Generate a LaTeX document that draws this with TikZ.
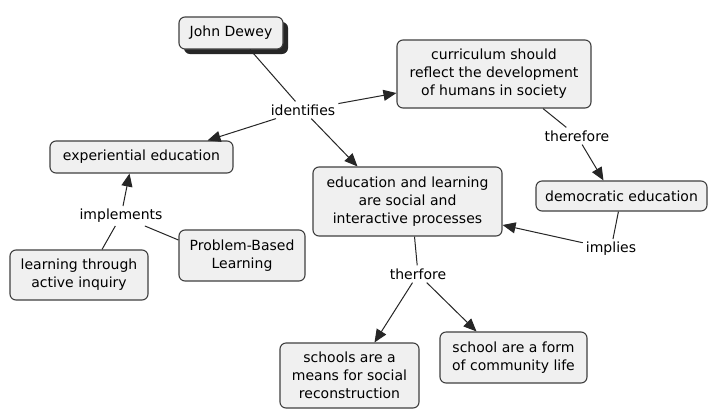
\documentclass[tikz,border=0pt]{standalone}
\usepackage{fontspec}
\setmainfont{DejaVu Sans}
\usetikzlibrary{arrows.meta,shadows}
\begin{document}
\begin{tikzpicture}[x=1pt,y=-1pt,
 box/.style={draw=black!75, fill=black!6, rounded corners=6pt, line width=1.1pt, align=center, font=\fontsize{14}{18}\selectfont, inner sep=0pt},
 lbl/.style={font=\fontsize{14}{18}\selectfont, inner sep=3pt},
 con/.style={draw=black!85, line width=1pt},
 arr/.style={con, -{Triangle[length=13pt,width=11pt]}}]
\useasboundingbox[fill=white] (0,0) rectangle (719,413);
% boxes
\node[box, minimum width=104pt, minimum height=32pt, drop shadow={shadow xshift=5pt, shadow yshift=-5pt, fill=black!85, opacity=1}] (jd) at (231,33) {John Dewey};
\node[box, minimum width=194pt, minimum height=68pt] (cur) at (494,74) {curriculum should\\reflect the development\\of humans in society};
\node[box, minimum width=171pt, minimum height=30pt] (dem) at (621.5,196) {democratic education};
\node[box, minimum width=189pt, minimum height=69pt] (edu) at (407.5,201.5) {education and learning\\are social and\\interactive processes};
\node[box, minimum width=183pt, minimum height=32pt] (exp) at (141.5,157) {experiential education};
\node[box, minimum width=138pt, minimum height=50pt] (lrn) at (79,275) {learning through\\active inquiry};
\node[box, minimum width=126pt, minimum height=51pt] (pbl) at (242,255.5) {Problem-Based\\Learning};
\node[box, minimum width=139pt, minimum height=65pt] (sch) at (349.5,375.5) {schools are a\\means for social\\reconstruction};
\node[box, minimum width=147pt, minimum height=51pt] (frm) at (513.5,357.5) {school are a form\\of community life};
% linking phrases
\node[lbl] (ide) at (303,110) {identifies};
\node[lbl] (the1) at (577,136) {therefore};
\node[lbl] (imp) at (611,249) {implies};
\node[lbl] (impl) at (121,216) {implements};
\node[lbl] (the2) at (418,274) {therfore};
% connectors
\draw[con] ([xshift=19pt]jd.south) -- (ide);
\draw[arr] (ide) -- (cur.west |- 0,93);
\draw[arr] (ide) -- ([xshift=66pt]exp.north);
\draw[arr] (ide) -- ([xshift=-50pt]edu.north);
\draw[con] ([xshift=49pt]cur.south) -- (the1);
\draw[arr] (the1) -- ([xshift=-18pt]dem.north);
\draw[con] (dem) -- (imp);
\draw[arr] (imp) -- (edu.east |- 0,225);
\draw[con] ([xshift=7pt]edu.south) -- (the2);
\draw[arr] (the2) -- ([xshift=25pt]sch.north);
\draw[arr] (the2) -- ([xshift=-37pt]frm.north);
\draw[arr] (impl) -- ([xshift=-12pt]exp.south);
\draw[con] ([xshift=23pt]lrn.north) -- (impl);
\draw[con] (pbl.west |- 0,240) -- (impl);
\end{tikzpicture}
\end{document}
